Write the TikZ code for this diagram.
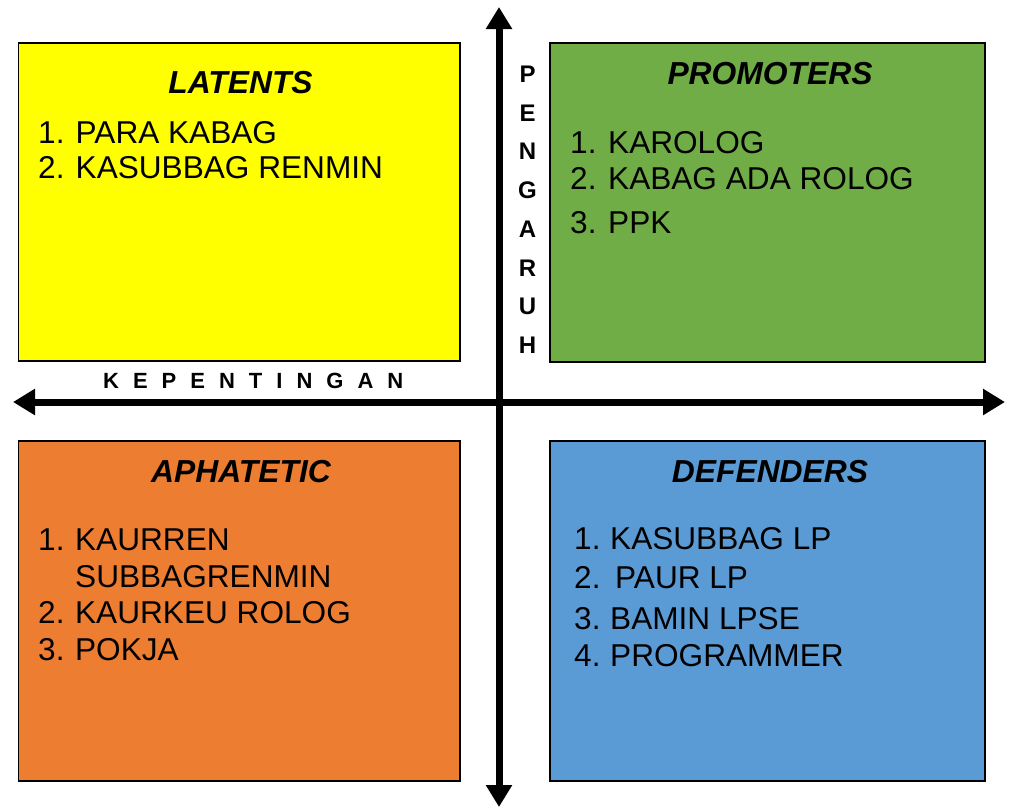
\documentclass[tikz,border=0pt]{standalone}
\usepackage{fontspec}
\setmainfont{Liberation Sans}
\usetikzlibrary{arrows.meta}
\definecolor{qyellow}{HTML}{FFFF00}
\definecolor{qgreen}{HTML}{70AD47}
\definecolor{qorange}{HTML}{ED7D31}
\definecolor{qblue}{HTML}{5B9BD5}
\tikzset{
  quad/.style={draw=black, line width=1.3pt, inner sep=0pt, outer sep=0pt, anchor=north west},
  qtitle/.style={anchor=base, inner sep=0pt, font=\fontsize{31.8}{36}\selectfont\bfseries\itshape},
  item/.style={anchor=base west, inner sep=0pt, font=\fontsize{31.6}{36}\selectfont},
  axislbl/.style={anchor=base, inner sep=0pt, font=\fontsize{22}{24}\selectfont\bfseries},
  vlbl/.style={anchor=base, inner sep=0pt, font=\fontsize{24}{26}\selectfont\bfseries},
  axis/.style={line width=7pt, {Triangle[length=22pt,width=25pt]}-{Triangle[length=22pt,width=25pt]}}
}
\begin{document}
\begin{tikzpicture}[x=1pt,y=-1pt]
\useasboundingbox (0,0) rectangle (1009,807);
% quadrant boxes
\node[quad, fill=qyellow, minimum width=441.5pt, minimum height=318pt] (latents) at (18.5,43) {};
\node[quad, fill=qgreen,  minimum width=435pt,   minimum height=319pt] (promoters) at (550,43) {};
\node[quad, fill=qorange, minimum width=441.5pt, minimum height=340pt] (aphatetic) at (18.5,441) {};
\node[quad, fill=qblue,   minimum width=435pt,   minimum height=340pt] (defenders) at (550,441) {};
% titles
\node[qtitle] (tl) at (240.5,93) {LATENTS};
\node[qtitle] (tp) at (770,84) {PROMOTERS};
\node[qtitle] (ta) at (241,482) {APHATETIC};
\node[qtitle] (td) at (770,482) {DEFENDERS};
% latents items
\node[item] (l1) at (38,143) {\makebox[37.5pt][l]{1.}PARA KABAG};
\node[item] (l2) at (38,178) {\makebox[37.5pt][l]{2.}KASUBBAG RENMIN};
% promoters items
\node[item] (p1) at (570,153) {\makebox[38pt][l]{1.}KAROLOG};
\node[item] (p2) at (570,189) {\makebox[38pt][l]{2.}KABAG ADA ROLOG};
\node[item] (p3) at (570,233) {\makebox[38pt][l]{3.}PPK};
% aphatetic items
\node[item] (a1) at (38,550) {\makebox[37pt][l]{1.}KAURREN};
\node[item] (a1b) at (75,587) {SUBBAGRENMIN};
\node[item] (a2) at (38,623) {\makebox[37pt][l]{2.}KAURKEU ROLOG};
\node[item] (a3) at (38,660) {\makebox[37pt][l]{3.}POKJA};
% defenders items
\node[item] (d1) at (574,549) {\makebox[36pt][l]{1.}KASUBBAG LP};
\node[item] (d2) at (574,588) {\makebox[41pt][l]{2.}PAUR LP};
\node[item] (d3) at (574,629) {\makebox[36pt][l]{3.}BAMIN LPSE};
\node[item] (d4) at (574,666) {\makebox[36pt][l]{4.}PROGRAMMER};
% axes
\coordinate (vtop) at (499,7);
\coordinate (vbot) at (499,807);
\coordinate (hleft) at (13,402);
\coordinate (hright) at (1005,402);
\draw[axis] (vbot) -- (vtop);
\draw[axis] (hleft) -- (hright);
% axis labels
\node[axislbl, anchor=base west] (kep) at (103,388) {K\hspace{14pt}E\hspace{14pt}P\hspace{14pt}E\hspace{14pt}N\hspace{14pt}T\hspace{14pt}I\hspace{14pt}N\hspace{14pt}G\hspace{14pt}A\hspace{14pt}N};
\foreach \ch [count=\i] in {P,E,N,G,A,R,U,H}
  \node[vlbl] (peng\i) at (527.5,{82.5+38.7*(\i-1)}) {\ch};
\end{tikzpicture}
\end{document}
